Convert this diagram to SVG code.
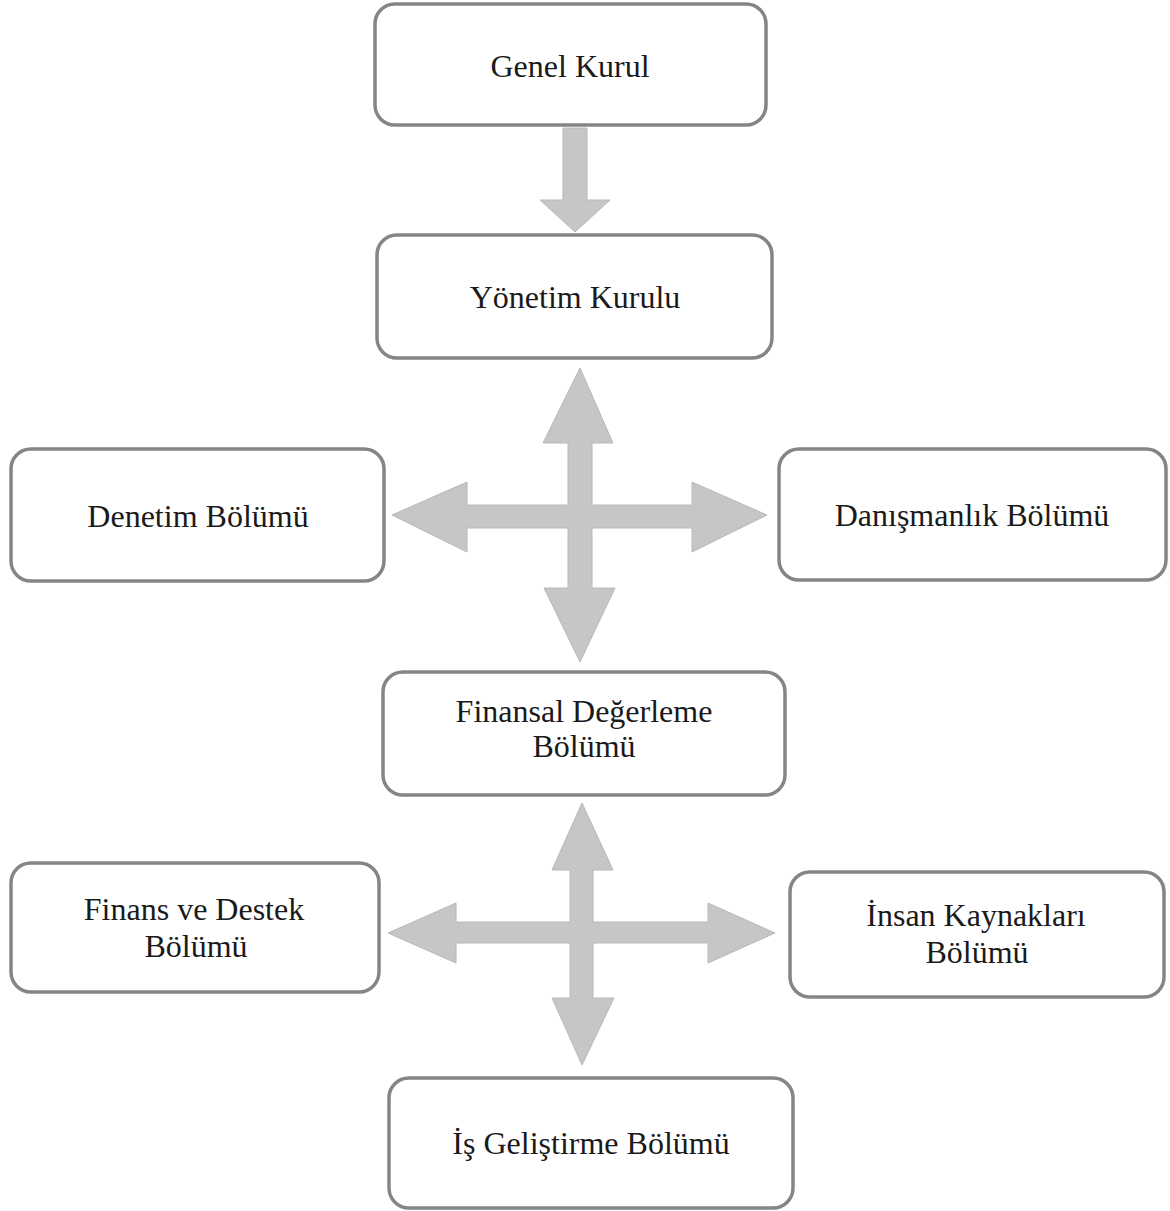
<svg xmlns="http://www.w3.org/2000/svg" width="1170" height="1211" viewBox="0 0 1170 1211">
<style>
.box{fill:#ffffff;stroke:#858585;stroke-width:3.5}
.lbl{font-family:"Liberation Serif","Times New Roman",serif;font-size:32px;fill:#1a1a1a;text-anchor:middle}
.arr{fill:#c6c6c6;stroke:#b8b8b8;stroke-width:1}
</style>
<rect width="1170" height="1211" fill="#ffffff"/>
<g id="connectors">
<polygon class="arr" points="563,128 587,128 587,200 610,200 575,232 540,200 563,200"/>
<path class="arr" d="M580,368 L613,443 L592,443 L592,505 L692,505 L692,482 L767,515 L692,552 L692,528 L592,528 L592,588 L615,588 L580,662 L544,588 L568,588 L568,528 L467,528 L467,552 L392,515 L467,482 L467,505 L568,505 L568,443 L543,443 Z"/>
<path class="arr" d="M582,803 L613,870 L593,870 L593,922 L708,922 L708,903 L775,933 L708,963 L708,943 L593,943 L593,998 L614,998 L582,1065 L552,998 L570,998 L570,943 L456,943 L456,963 L388,933 L456,903 L456,922 L570,922 L570,870 L552,870 Z"/>
</g>
<g id="genel-kurul">
<rect class="box" x="375" y="4" width="391" height="121" rx="20"/>
<text class="lbl" x="570" y="77">Genel Kurul</text>
</g>
<g id="yonetim-kurulu">
<rect class="box" x="377" y="235" width="395" height="123" rx="20"/>
<text class="lbl" x="575" y="308">Yönetim Kurulu</text>
</g>
<g id="denetim">
<rect class="box" x="11" y="449" width="373" height="132" rx="20"/>
<text class="lbl" x="198" y="527">Denetim Bölümü</text>
</g>
<g id="danismanlik">
<rect class="box" x="779" y="449" width="387" height="131" rx="20"/>
<text class="lbl" x="972" y="526">Danışmanlık Bölümü</text>
</g>
<g id="finansal-degerleme">
<rect class="box" x="383" y="672" width="402" height="123" rx="20"/>
<text class="lbl" x="584" y="722">Finansal Değerleme</text>
<text class="lbl" x="584" y="757">Bölümü</text>
</g>
<g id="finans-destek">
<rect class="box" x="11" y="863" width="368" height="129" rx="20"/>
<text class="lbl" x="194" y="920">Finans ve Destek</text>
<text class="lbl" x="196" y="957">Bölümü</text>
</g>
<g id="insan-kaynaklari">
<rect class="box" x="790" y="872" width="374" height="125" rx="20"/>
<text class="lbl" x="976" y="926">İnsan Kaynakları</text>
<text class="lbl" x="977" y="963">Bölümü</text>
</g>
<g id="is-gelistirme">
<rect class="box" x="389" y="1078" width="404" height="130" rx="20"/>
<text class="lbl" x="591" y="1154">İş Geliştirme Bölümü</text>
</g>
</svg>
